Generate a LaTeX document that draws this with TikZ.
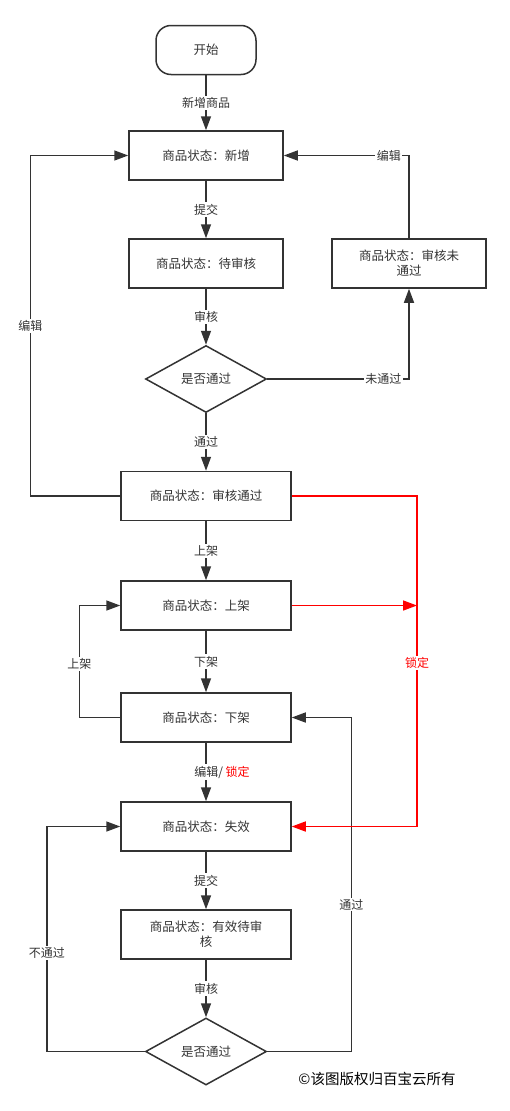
\documentclass[tikz,border=0pt]{standalone}
\usepackage{fontspec}
\usepackage{tikz}
\usetikzlibrary{shapes.geometric}
\usetikzlibrary{arrows.meta}
\newfontfamily\cjk{Noto Sans CJK SC}
\definecolor{ink}{HTML}{333333}

\begin{document}
\begin{tikzpicture}[x=1pt, y=-1pt, >={Triangle[length=14pt,width=10pt]},
	state/.style={rectangle,draw=ink,line width=1.5pt,minimum width=154pt,minimum height=49pt,text=ink,align=center,font=\cjk\fontsize{12.5}{15}\selectfont},
	wide/.style={state,minimum width=170pt},
	decide/.style={diamond,draw=ink,line width=1.5pt,aspect=1.8,inner sep=0pt,minimum width=121pt,minimum height=67pt,text=ink,font=\cjk\fontsize{12.5}{15}\selectfont},
	lbl/.style={fill=white,inner sep=1.5pt,text=ink,font=\cjk\fontsize{12}{15}\selectfont},
	link/.style={draw=ink,line width=1.5pt,->},
	lock/.style={draw=red,line width=1.5pt,->}]
	\useasboundingbox (0,0) rectangle (510,1111);
	\node (start) at (206,50) [state,minimum width=100pt,minimum height=49pt,rounded corners=15pt] {开始};
	\node (s1) at (206,155.5) [state] {商品状态：新增};
	\node (s2) at (206,263.5) [state] {商品状态：待审核};
	\node (d1) at (206,379) [decide] {是否通过};
	\node (fail) at (409,263.5) [state] {商品状态：审核未\\通过};
	\node (s3) at (206,496) [wide] {商品状态：审核通过};
	\node (s4) at (206,605.5) [wide] {商品状态：上架};
	\node (s5) at (206,717.5) [wide] {商品状态：下架};
	\node (s6) at (206,826.5) [wide] {商品状态：失效};
	\node (s7) at (206,934.5) [wide] {商品状态：有效待审\\核};
	\node (d2) at (206,1051.5) [decide] {是否通过};
	\coordinate (lk) at (417,605.5);
	\node (copy) at (377,1079) [text=black,font=\cjk\fontsize{14.5}{16}\selectfont] {©该图版权归百宝云所有};
	% main line
	\draw[link] (start) to node[lbl]{新增商品} (s1);
	\draw[link] (s1) to node[lbl]{提交} (s2);
	\draw[link] (s2) to node[lbl]{审核} (d1);
	\draw[link] (d1) to node[lbl]{通过} (s3);
	\draw[link] (s3) to node[lbl]{上架} (s4);
	\draw[link] (s4) to node[lbl]{下架} (s5);
	\draw[link] (s5) to node[lbl,xshift=16pt]{编辑/ \textcolor{red}{锁定}} (s6);
	\draw[link] (s6) to node[lbl]{提交} (s7);
	\draw[link] (s7) to node[lbl]{审核} (d2);
	% loops
	\draw[link] (d1.east) -| node[lbl,pos=0.41]{未通过} (fail.south);
	\draw[link] (fail.north) |- node[lbl,pos=0.58]{编辑} (s1.east);
	\draw[link] (s3.west) -- ++(-90,0) |- node[lbl,pos=0.25]{编辑} (s1.west);
	\draw[link] (s5.west) -- ++(-41,0) |- node[lbl,pos=0.24]{上架} (s4.west);
	\draw[link] (d2.east) -- ++(84,0) |- node[lbl,pos=0.22]{通过} (s5.east);
	\draw[link] (d2.west) -- ++(-98,0) |- node[lbl,pos=0.22]{不通过} (s6.west);
	% lock
	\draw[lock] (s3.east) -| (lk) |- node[lbl,pos=0.13,text=red]{锁定} (s6.east);
	\draw[lock] (s4.east) -- (lk);
\end{tikzpicture}
\end{document}
